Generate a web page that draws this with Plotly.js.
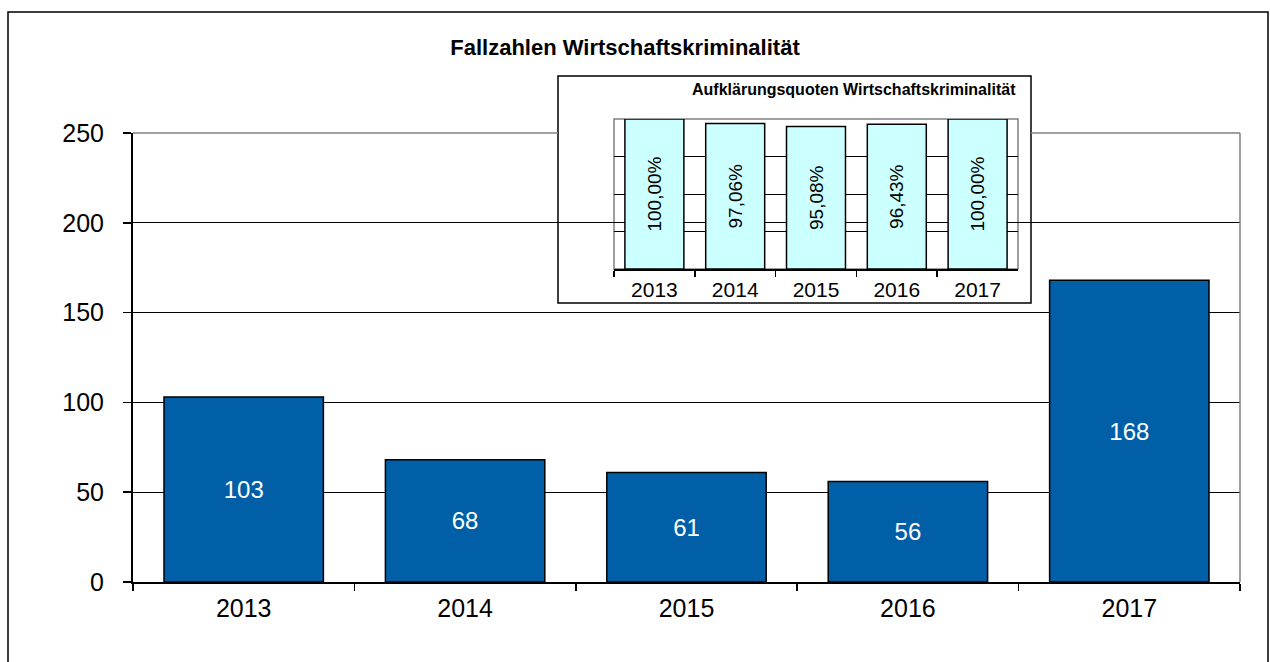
<!DOCTYPE html>
<html>
<head>
<meta charset="utf-8">
<script src="https://cdn.plot.ly/plotly-3.0.1.min.js"></script>
<style>html,body{margin:0;padding:0;background:#fff;}#chart{width:1270px;height:662px;}</style>
</head>
<body>
<div id="chart"></div>
<script>
var years = ['2013', '2014', '2015', '2016', '2017'];
var cases = [103, 68, 61, 56, 168];
var clearanceRates = [100.00, 97.06, 95.08, 96.43, 100.00];
var mainTitle = 'Fallzahlen Wirtschaftskriminalität';
var insetTitle = 'Aufklärungsquoten Wirtschaftskriminalität';

var FONT = 'Liberation Sans, Arial, sans-serif';
var W = 1270, H = 662;
function px(x) { return x / W; }
function py(y) { return 1 - y / H; }

var traces = [
  {
    type: 'bar', x: years, y: cases, xaxis: 'x', yaxis: 'y',
    width: 0.72,
    marker: {color: '#005FA7', line: {color: '#000', width: 1.5}},
    texttemplate: '%{y}', textposition: 'inside', insidetextanchor: 'middle',
    textfont: {color: '#fff', size: 24, family: FONT},
    hoverinfo: 'skip'
  },
  {
    type: 'bar', x: years, y: clearanceRates, xaxis: 'x2', yaxis: 'y2',
    width: 0.73,
    marker: {color: '#CCFFFF', line: {color: '#000', width: 1.5}},
    texttemplate: '%{y:.2f}%', textposition: 'inside', insidetextanchor: 'middle',
    textangle: -90,
    textfont: {color: '#000', size: 19, family: FONT},
    hoverinfo: 'skip'
  }
];

var layout = {
  width: W, height: H,
  margin: {l: 0, r: 0, t: 0, b: 0, pad: 0},
  paper_bgcolor: '#fff', plot_bgcolor: 'rgba(0,0,0,0)',
  separators: ',.',
  showlegend: false,
  font: {family: FONT, color: '#000'},
  title: {
    text: '<b>' + mainTitle + '</b>',
    x: 625 / W, xanchor: 'center', xref: 'paper',
    y: py(47), yanchor: 'middle', yref: 'paper',
    font: {size: 22, family: FONT, color: '#000'}
  },
  xaxis: {
    domain: [px(133), px(1240)], anchor: 'y',
    type: 'category', tickson: 'boundaries',
    ticks: 'outside', ticklen: 7, tickwidth: 1.5, tickcolor: '#000',
    showline: true, linecolor: '#000', linewidth: 2,
    showgrid: false, zeroline: false,
    tickfont: {size: 25, family: FONT, color: '#000'},
    ticklabelstandoff: 3,
    fixedrange: true
  },
  yaxis: {
    domain: [py(582), py(133)], anchor: 'x',
    range: [0, 250], tick0: 0, dtick: 50,
    ticks: 'outside', ticklen: 8, tickwidth: 1.5, tickcolor: '#000',
    showline: true, linecolor: '#000', linewidth: 2,
    showgrid: true, gridcolor: '#000', gridwidth: 1,
    zeroline: false,
    tickfont: {size: 25, family: FONT, color: '#000'},
    ticklabelstandoff: 14,
    fixedrange: true
  },
  xaxis2: {
    domain: [px(614), px(1018)], anchor: 'y2',
    type: 'category', tickson: 'boundaries',
    ticks: 'outside', ticklen: 6, tickwidth: 1.5, tickcolor: '#000',
    showline: true, linecolor: '#000', linewidth: 2,
    showgrid: false, zeroline: false,
    tickfont: {size: 21, family: FONT, color: '#000'},
    ticklabelstandoff: 1,
    fixedrange: true
  },
  yaxis2: {
    domain: [py(269), py(119)], anchor: 'x2',
    range: [0, 100], tickvals: [25, 50, 75],
    showticklabels: false, ticks: '',
    showline: false,
    showgrid: true, gridcolor: '#000', gridwidth: 1,
    zeroline: false,
    fixedrange: true
  },
  shapes: [
    {type: 'rect', xref: 'paper', yref: 'paper', layer: 'above',
     x0: px(8), x1: px(1268), y0: -0.05, y1: py(12),
     line: {color: '#000', width: 1.5}, fillcolor: 'rgba(0,0,0,0)'},
    {type: 'line', xref: 'paper', yref: 'paper', layer: 'above',
     x0: px(133), x1: px(558), y0: py(133), y1: py(133),
     line: {color: '#808080', width: 1.5}},
    {type: 'line', xref: 'paper', yref: 'paper', layer: 'above',
     x0: px(1031), x1: px(1240), y0: py(133), y1: py(133),
     line: {color: '#808080', width: 1.5}},
    {type: 'line', xref: 'paper', yref: 'paper', layer: 'above',
     x0: px(1240), x1: px(1240), y0: py(133), y1: py(582),
     line: {color: '#808080', width: 1.5}},
    {type: 'rect', xref: 'x2 domain', yref: 'y2 domain', layer: 'below',
     x0: (558 - 614) / 404, x1: (1031 - 614) / 404,
     y0: (269 - 303) / 150, y1: (269 - 76) / 150,
     line: {color: '#000', width: 1.5}, fillcolor: '#fff'},
    {type: 'rect', xref: 'x2 domain', yref: 'y2 domain', layer: 'below',
     x0: 0, x1: 1, y0: 0, y1: 1,
     line: {color: '#808080', width: 1.5}, fillcolor: 'rgba(0,0,0,0)'}
  ],
  annotations: [
    {text: '<b>' + insetTitle + '</b>', xref: 'paper', yref: 'paper',
     x: px(1018), xanchor: 'right', y: py(90), yanchor: 'middle',
     showarrow: false, font: {size: 16, family: FONT, color: '#000'}}
  ]
};

Plotly.newPlot('chart', traces, layout, {staticPlot: true, displayModeBar: false});
</script>
</body>
</html>
